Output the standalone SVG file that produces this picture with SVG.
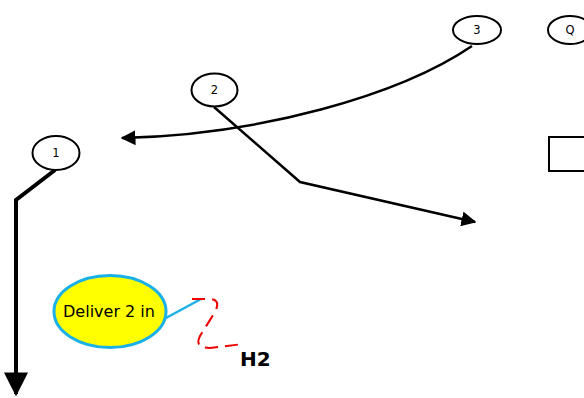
<svg xmlns="http://www.w3.org/2000/svg" width="584" height="398" viewBox="0 0 584 398">
  <style>
    .node ellipse { fill: #fff; stroke: #000; stroke-width: 2; }
    .node text { font-family: "DejaVu Sans", "Liberation Sans", sans-serif; font-size: 11.5px; text-anchor: middle; fill: #000; }
    .conn { fill: none; stroke: #000; stroke-width: 2.5; }
  </style>
  <defs>
    <marker id="arrow" viewBox="0 0 10 10" refX="9" refY="5" markerWidth="6" markerHeight="6" orient="auto">
      <path d="M0,0 L10,5 L0,10 Z" fill="#000"/>
    </marker>
  </defs>

  <!-- connectors -->
  <g id="connectors">
    <path class="conn" d="M472,46 C400,95 260,135 122,138" marker-end="url(#arrow)"/>
    <path class="conn" d="M214,107 L300,182 L475,222" marker-end="url(#arrow)"/>
    <path class="conn" d="M55,170 L16,200 L16,394" style="stroke-width:4" marker-end="url(#arrow)"/>
    <line x1="166" y1="318" x2="201" y2="299" stroke="#1ab0e8" stroke-width="2.5"/>
  </g>

  <g id="n3" class="node">
    <ellipse cx="477" cy="30" rx="24" ry="14"/>
    <text x="477" y="34">3</text>
  </g>
  <g id="nQ" class="node">
    <ellipse cx="570" cy="30" rx="22" ry="14"/>
    <text x="570" y="34">Q</text>
  </g>
  <g id="n2" class="node">
    <ellipse cx="214.5" cy="90" rx="23" ry="16.5"/>
    <text x="214.5" y="94">2</text>
  </g>
  <g id="n1" class="node">
    <ellipse cx="56" cy="153" rx="23.5" ry="17"/>
    <text x="56" y="157">1</text>
  </g>

  <g id="box">
    <rect x="549" y="137" width="50" height="34" fill="#fff" stroke="#000" stroke-width="2"/>
  </g>

  <g id="callout">
    <ellipse cx="110" cy="311.5" rx="56" ry="36" fill="#ffff00" stroke="#1ab0e8" stroke-width="3"/>
    <text x="109" y="317" font-family="DejaVu Sans, Liberation Sans, sans-serif" font-size="16" text-anchor="middle" fill="#000">Deliver 2 in</text>
  </g>

  <g id="mark">
    <path d="M192,299 L211,299 Q221,300 215,312 L200,336 Q194,348 210,348 L243,344" fill="none" stroke="#ee0000" stroke-width="2" stroke-dasharray="13,7"/>
    <text x="240" y="366" font-family="DejaVu Sans, Liberation Sans, sans-serif" font-size="20" font-weight="bold" fill="#000">H2</text>
  </g>
</svg>
